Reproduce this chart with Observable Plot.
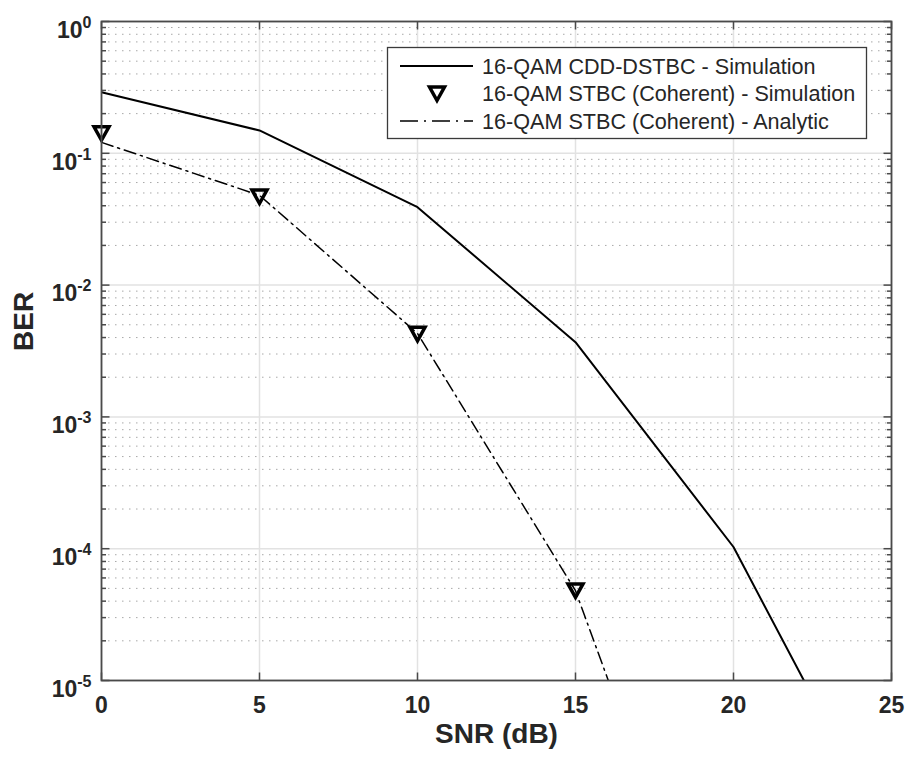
<!DOCTYPE html>
<html><head><meta charset="utf-8">
<script src="https://cdn.jsdelivr.net/npm/d3@7"></script>
<script src="https://cdn.jsdelivr.net/npm/@observablehq/plot@0.6"></script>
<style>body{margin:0;background:#fff}#chart{width:906px;height:758px}</style>
</head><body><div id="chart"></div>
<script>
// ---- data ----
const snrCdd = [0, 5, 10, 15, 20, 25];
const berCdd = [0.291, 0.149, 0.039, 0.00369, 1.03e-4, 5.5e-7];
const snrSim = [0, 5, 10, 15];
const berSim = [0.142, 0.047, 0.00427, 4.82e-5];
const snrAna = [0, 5, 10, 15, 20];
const berAna = [0.121, 0.048, 0.0043, 4.8e-5, 2.5e-8];
const xTicks = [0, 5, 10, 15, 20, 25];
const yTicks = [1e-5, 1e-4, 1e-3, 1e-2, 1e-1, 1];
const yMinor = d3.range(-5, 0).flatMap(e => d3.range(2, 10).map(k => k * Math.pow(10, e)));
const legendLabels = [
  "16-QAM CDD-DSTBC - Simulation",
  "16-QAM STBC (Coherent) - Simulation",
  "16-QAM STBC (Coherent) - Analytic"
];
const xLabel = "SNR (dB)";
const yLabel = "BER";

const cdd = snrCdd.map((x, i) => ({x, y: berCdd[i]}));
const sim = snrSim.map((x, i) => ({x, y: berSim[i]}));
const ana = snrAna.map((x, i) => ({x, y: berAna[i]}));

const FONT = "'Liberation Sans', Arial, Helvetica, sans-serif";
const DASHDOT = "12,5,2,5";
const AX = "#4a4a4a";
const triPath = "M-7.5,-6.5L7.5,-6.5L0,7Z";
const triDown = {draw(c) { c.moveTo(-7.5, -6.5); c.lineTo(7.5, -6.5); c.lineTo(0, 7); c.closePath(); }};
const tickSym = (dx, dy) => ({draw(c) { c.moveTo(0, 0); c.lineTo(dx, dy); }});

const chart = Plot.plot({
  width: 906, height: 758,
  marginLeft: 101, marginRight: 15, marginTop: 21, marginBottom: 78,
  style: {fontFamily: FONT, fontSize: "23px", fontWeight: "bold", color: "#262626", background: "#fff"},
  x: {domain: [0, 25], ticks: xTicks, tickSize: 0, tickPadding: 16, tickFormat: d => String(d), label: null},
  y: {type: "log", domain: [1e-5, 1], ticks: yTicks, tickSize: 0, tickPadding: 10, tickFormat: d => String(Math.round(Math.log10(d))), label: null},
  marks: [
    Plot.ruleY(yMinor, {stroke: "#a8a8a8", strokeWidth: 1, strokeDasharray: "1.5,5.5"}),
    Plot.ruleY(yTicks, {stroke: "#e2e2e2", strokeWidth: 1.5}),
    Plot.ruleX(xTicks, {stroke: "#e2e2e2", strokeWidth: 1.5}),
    // inward tick marks
    Plot.dot(xTicks, {x: d => d, frameAnchor: "bottom", symbol: tickSym(0, -8), stroke: AX, strokeWidth: 1.5, fill: "none"}),
    Plot.dot(xTicks, {x: d => d, frameAnchor: "top", symbol: tickSym(0, 8), stroke: AX, strokeWidth: 1.5, fill: "none"}),
    Plot.dot(yTicks, {y: d => d, frameAnchor: "left", symbol: tickSym(8, 0), stroke: AX, strokeWidth: 1.5, fill: "none"}),
    Plot.dot(yTicks, {y: d => d, frameAnchor: "right", symbol: tickSym(-8, 0), stroke: AX, strokeWidth: 1.5, fill: "none"}),
    Plot.dot(yMinor, {y: d => d, frameAnchor: "left", symbol: tickSym(4.5, 0), stroke: AX, strokeWidth: 1.5, fill: "none"}),
    Plot.dot(yMinor, {y: d => d, frameAnchor: "right", symbol: tickSym(-4.5, 0), stroke: AX, strokeWidth: 1.5, fill: "none"}),
    // data
    Plot.line(cdd, {x: "x", y: "y", stroke: "#000", strokeWidth: 2, clip: true}),
    Plot.line(ana, {x: "x", y: "y", stroke: "#000", strokeWidth: 1.5, strokeDasharray: DASHDOT, clip: true}),
    Plot.dot(sim, {x: "x", y: "y", symbol: triDown, stroke: "#000", strokeWidth: 3.5, fill: "none"}),
    Plot.frame({stroke: AX, strokeWidth: 1.8}),
    // axis labels
    Plot.text([xLabel], {text: d => d, frameAnchor: "bottom", dy: 62, fontSize: 28, fontWeight: "bold", fill: "#262626"}),
    Plot.text([yLabel], {text: d => d, frameAnchor: "left", rotate: -90, dx: -77, fontSize: 28, fontWeight: "bold", fill: "#262626"})
  ]
});
document.getElementById("chart").appendChild(chart);

const svg = d3.select(chart.tagName.toLowerCase() === "svg" ? chart : chart.querySelector("svg"));

// axis tick label font size
svg.selectAll('g[aria-label^="x-axis"], g[aria-label^="y-axis"]').attr("font-size", 23).attr("font-weight", "bold");
svg.selectAll('g[aria-label^="x-axis"] text, g[aria-label^="y-axis"] text').attr("font-size", 23).attr("font-weight", "bold").attr("fill", "#262626");

// superscript exponents on y tick labels
svg.selectAll('g[aria-label^="y-axis"] text').each(function() {
  const e = this.textContent;
  const t = d3.select(this);
  t.text("").attr("dy", 9);
  t.append("tspan").text("10");
  t.append("tspan").attr("dy", -10).attr("font-size", 16).text(e);
});

// legend
const lg = svg.append("g").attr("font-family", FONT).attr("text-anchor", "start");
lg.append("rect").attr("x", 387.5).attr("y", 47.5).attr("width", 479).attr("height", 91)
  .attr("fill", "#fff").attr("stroke", "#3a3a3a").attr("stroke-width", 1.3);
const rowsY = [66, 93.5, 121];
lg.append("line").attr("x1", 400).attr("x2", 473).attr("y1", rowsY[0]).attr("y2", rowsY[0]).attr("stroke", "#000").attr("stroke-width", 2);
lg.append("path").attr("d", triPath).attr("transform", `translate(437,${rowsY[1]})`)
  .attr("fill", "none").attr("stroke", "#000").attr("stroke-width", 3.5);
lg.append("line").attr("x1", 400).attr("x2", 473).attr("y1", rowsY[2]).attr("y2", rowsY[2]).attr("stroke", "#000").attr("stroke-width", 1.5).attr("stroke-dasharray", "18,6,2,6");
legendLabels.forEach((s, i) => {
  lg.append("text").attr("x", 482).attr("y", rowsY[i] + 7.5).attr("text-anchor", "start")
    .attr("font-size", 21.6).attr("font-weight", "normal").attr("fill", "#262626").text(s);
});
</script>
</body></html>
